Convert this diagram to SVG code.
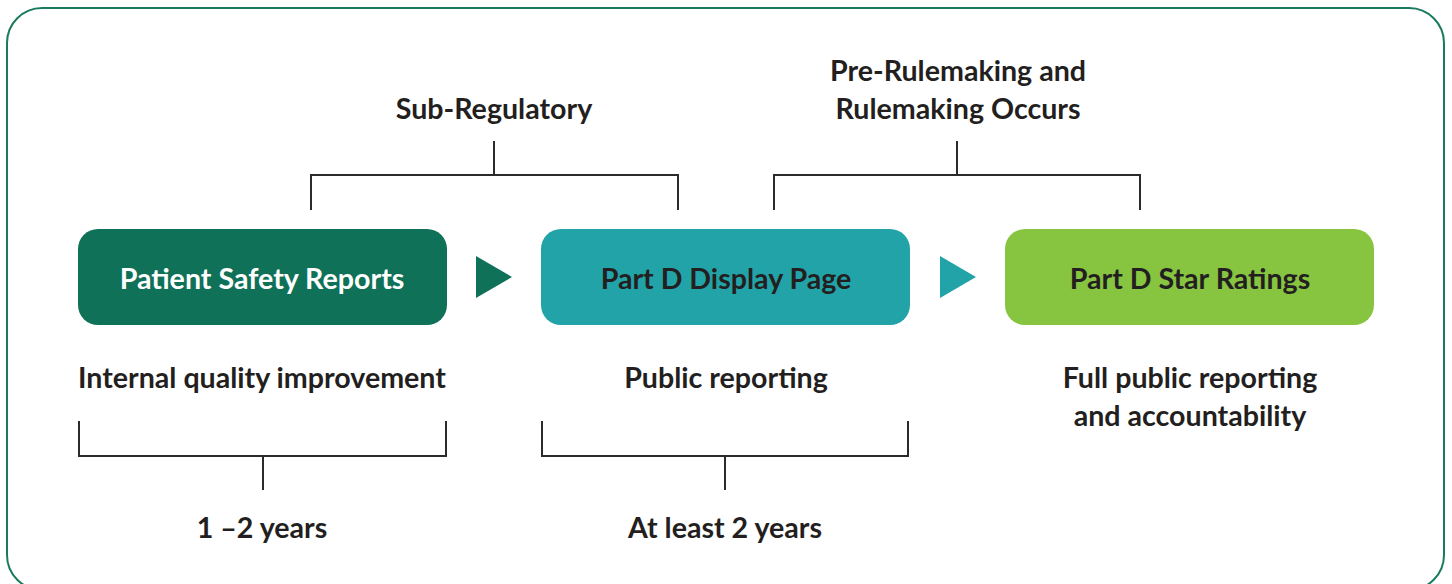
<svg xmlns="http://www.w3.org/2000/svg" width="1452" height="584" viewBox="0 0 1452 584">
  <style>
    .lbl { font-family: Lato, "Open Sans", "Liberation Sans", sans-serif; font-weight: 700; font-size: 28.6px; fill: #231f20; text-anchor: middle; }
    .node-text { font-family: Lato, "Open Sans", "Liberation Sans", sans-serif; font-weight: 700; font-size: 28.6px; text-anchor: middle; }
    .bracket { fill: none; stroke: #2b2b2b; stroke-width: 2; }
  </style>

  <rect width="1452" height="584" fill="#ffffff"/>
  <!-- outer frame -->
  <rect x="7" y="8" width="1437" height="582" rx="35" ry="35" fill="none" stroke="#1a7a60" stroke-width="2"/>

  <!-- stage nodes -->
  <g id="node-patient-safety">
    <rect x="78" y="229" width="369" height="96" rx="20" ry="20" fill="#0f7157"/>
    <text class="node-text" x="262" y="289" fill="#ffffff">Patient Safety Reports</text>
  </g>
  <g id="node-display-page">
    <rect x="541" y="229" width="369" height="96" rx="20" ry="20" fill="#22a3a8"/>
    <text class="node-text" x="726" y="289" fill="#231f20">Part D Display Page</text>
  </g>
  <g id="node-star-ratings">
    <rect x="1005" y="229" width="369" height="96" rx="20" ry="20" fill="#87c440"/>
    <text class="node-text" x="1190" y="289" fill="#231f20">Part D Star Ratings</text>
  </g>

  <!-- connectors: flow arrows and brackets -->
  <g id="connectors">
    <polygon points="476,256 512,277 476,298" fill="#0f7157"/>
    <polygon points="940,256 976,277 940,298" fill="#22a3a8"/>

    <path class="bracket" d="M311,210 V175 H678 V210 M494,175 V141"/>
    <path class="bracket" d="M774,210 V175 H1140 V210 M957,175 V141"/>

    <path class="bracket" d="M79,421 V456 H446 V421 M263,456 V490"/>
    <path class="bracket" d="M542,421 V456 H908 V421 M725,456 V490"/>
  </g>

  <!-- stage descriptions -->
  <g id="labels">
    <text class="lbl" x="494" y="119">Sub-Regulatory</text>
    <text class="lbl" x="958" y="81">Pre-Rulemaking and</text>
    <text class="lbl" x="958" y="119">Rulemaking Occurs</text>

    <text class="lbl" x="262" y="388">Internal quality improvement</text>
    <text class="lbl" x="726" y="388">Public reporting</text>
    <text class="lbl" x="1190" y="388">Full public reporting</text>
    <text class="lbl" x="1190" y="426">and accountability</text>

    <text class="lbl" x="262" y="538">1 –2 years</text>
    <text class="lbl" x="725" y="538">At least 2 years</text>
  </g>
</svg>
